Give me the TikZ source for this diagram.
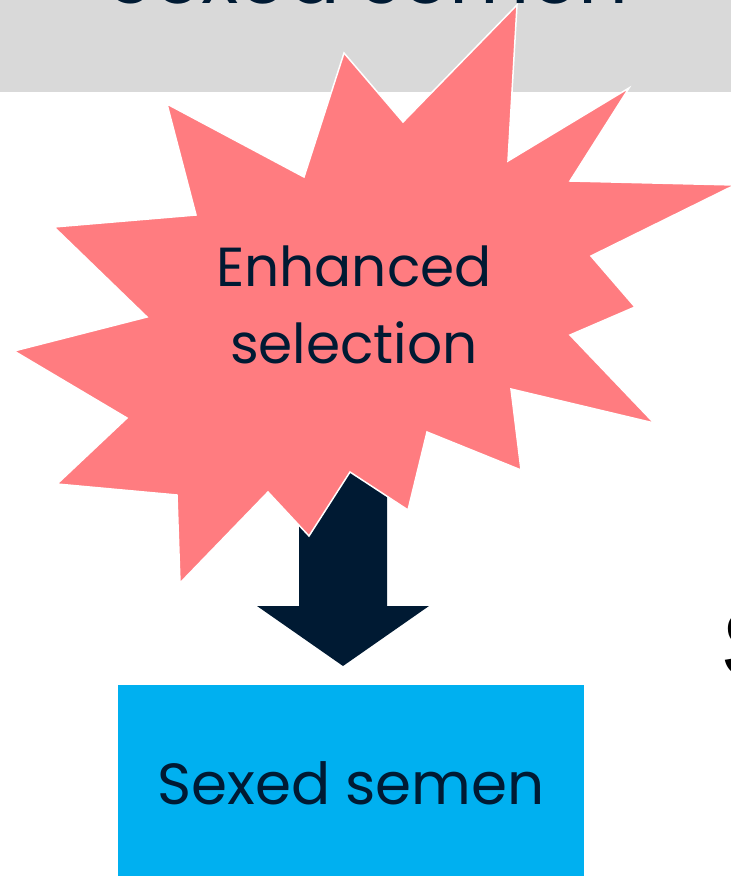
\documentclass[tikz,border=0pt]{standalone}
\usepackage{fontspec}
\setmainfont{Poppins}
\newfontfamily\heavyfont{Liberation Sans}
\usetikzlibrary{positioning}
\definecolor{bandgray}{HTML}{D9D9D9}
\definecolor{burstpink}{HTML}{FF7C80}
\definecolor{darknavy}{HTML}{001A33}
\definecolor{boxblue}{HTML}{00B0F0}
\begin{document}
\begin{tikzpicture}[x=1pt,y=-1pt]
 %page frame
  \useasboundingbox (0,0) rectangle (731,876);
 %header band
  \fill[bandgray] (0,0) rectangle (731,92);
  \node[anchor=base,text=darknavy,font=\fontsize{78}{84}\selectfont] (head) at (368,3) {Sexed semen};
 %block arrow
  \fill[darknavy] (299,470) -- (387,470) -- (387,606) -- (429,606) -- (343,666)
    -- (257,606) -- (299,606) -- cycle;
 %starburst
  \draw[white,line width=1.5pt,fill=burstpink,line join=miter]
    (517,5) -- (508,161) -- (629,88) -- (570,181) -- (735,185) -- (591,256)
    -- (635,307) -- (570,335) -- (654,423) -- (511,389) -- (521,470)
    -- (427,432) -- (408,510) -- (350,472) -- (309,536) -- (268,492)
    -- (180,583) -- (177,495) -- (57,484) -- (127,418) -- (14,351)
    -- (147,317) -- (54,227) -- (196,215) -- (167,104) -- (304,177)
    -- (344,53) -- (403,122) -- cycle;
  \node[text=darknavy,align=center,font=\fontsize{55}{77}\selectfont] (sel) at (354,305) {Enhanced\\selection};
 %result box
  \node[fill=boxblue,minimum width=466pt,minimum height=196pt,inner sep=0pt,
    text=darknavy,font=\fontsize{58}{64}\selectfont] (sexed) at (351,783) {Sexed semen};
 %next column
  \node[anchor=base west,inner sep=0pt,font=\heavyfont\fontsize{96}{100}\bfseries] (next) at (722,677) {S};
\end{tikzpicture}
\end{document}
